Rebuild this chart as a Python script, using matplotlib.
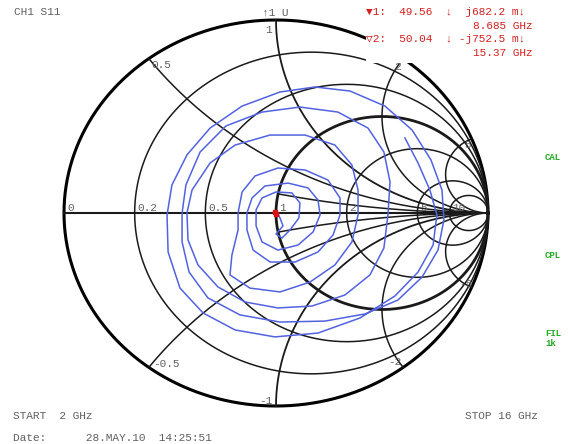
import numpy as np
import matplotlib.pyplot as plt
from matplotlib.patches import Rectangle

W, H = 568, 444
MONO = ['Liberation Mono', 'DejaVu Sans Mono']

# Smith chart grid values
r_circles = [0.2, 0.5, 1, 2, 5, 10]
r_labels = ['0', '0.2', '0.5', '1', '2', '5', '10']
x_arcs = [0.5, 1, 2, 5]
x_partial = [0.2]
x_labels = ['0.5', '1', '2', '5', '-0.5', '-1', '-2', '-5']

gamma_re = [0.608, 0.670, 0.726, 0.759, 0.741, 0.670, 0.561, 0.396, 0.198, -0.005,
            -0.193, -0.344, -0.453, -0.509, -0.514, -0.491, -0.420, -0.311, -0.160, 0.019,
            0.184, 0.349, 0.514, 0.642, 0.731, 0.783, 0.792, 0.764,
            0.689, 0.575, 0.420, 0.231, 0.019, -0.170, -0.321, -0.410, -0.443, -0.443,
            -0.425, -0.358, -0.236, -0.066, 0.113, 0.292, 0.434, 0.509, 0.538, 0.528, 0.509,
            0.443, 0.325, 0.170, 0.009, -0.146, -0.274, -0.368, -0.415, -0.420, -0.396,
            -0.311, -0.193, -0.028, 0.137, 0.278, 0.358, 0.387, 0.387, 0.358,
            0.278, 0.160, 0.019, -0.123, -0.217, -0.208, -0.179, -0.179, -0.160, -0.099,
            0.009, 0.137, 0.245, 0.302, 0.302, 0.269,
            0.198, 0.090, -0.028, -0.108, -0.137, -0.137, -0.113, -0.052, 0.057, 0.151,
            0.198, 0.208, 0.175,
            0.104, 0.009, -0.066, -0.094, -0.094, -0.066, 0.000, 0.075, 0.113, 0.108, 0.066,
            0.028, 0.000, 0.033, 0.019, 0.005]
gamma_im = [0.389, 0.259, 0.119, -0.010, -0.166, -0.306, -0.430, -0.544, -0.622, -0.642,
            -0.606, -0.518, -0.389, -0.202, -0.010, 0.145, 0.301, 0.440, 0.554, 0.627,
            0.653, 0.632, 0.554, 0.430, 0.275, 0.119, -0.036, -0.192,
            -0.332, -0.451, -0.523, -0.560, -0.565, -0.528, -0.440, -0.306, -0.150, 0.000,
            0.145, 0.316, 0.451, 0.523, 0.549, 0.523, 0.440, 0.316, 0.161, -0.010, -0.181,
            -0.321, -0.425, -0.482, -0.492, -0.461, -0.383, -0.269, -0.140, 0.000, 0.119,
            0.259, 0.352, 0.404, 0.404, 0.352, 0.249, 0.119, -0.010, -0.150,
            -0.269, -0.358, -0.409, -0.389, -0.321, -0.218, -0.088, 0.000, 0.109, 0.192,
            0.233, 0.223, 0.171, 0.078, -0.010, -0.114,
            -0.202, -0.254, -0.254, -0.192, -0.088, 0.000, 0.078, 0.140, 0.155, 0.130,
            0.067, -0.010, -0.098,
            -0.166, -0.192, -0.150, -0.067, 0.016, 0.078, 0.109, 0.104, 0.052, -0.026, -0.088,
            -0.130, -0.109, -0.067, -0.026, 0.005]

# markers
z0 = 50.0
marker_freq = ['8.685 GHz', '15.37 GHz']
marker_r = [49.56, 50.04]
marker_x = [0.6822, -0.7525]

# label offsets (pixels) for reactance labels
x_label_style = {'0.5': (3, -6, 'left'), '1': (-4, -10, 'right'), '2': (-2, -8, 'right'),
                 '5': (-1, -6, 'right'), '-0.5': (4, 3, 'left'), '-1': (-4, 5, 'right'),
                 '-2': (-2, 5, 'right'), '-5': (1, 3, 'right')}


def gamma(z):
    return (z - 1) / (z + 1)


def figtext(x, y, s, **kw):
    fig.text(x / W, 1 - y / H, s, va='center', family=MONO, **kw)


fig = plt.figure(figsize=(W / 100, H / 100), dpi=100)
ax = fig.add_axes([64 / W, 1 - 406 / H, 424 / W, 386 / H])
ax.set_xlim(-1, 1)
ax.set_ylim(-1, 1)
ax.axis('off')

grid = '#1a1a1a'
t = np.linspace(0, 2 * np.pi, 721)
ax.plot(np.cos(t), np.sin(t), color='#000000', lw=2.2, clip_on=False)
for r in r_circles:
    c, rad = r / (1 + r), 1 / (1 + r)
    ax.plot(c + rad * np.cos(t), rad * np.sin(t), color=grid,
            lw=2.0 if r == 1 else 1.1, clip_on=False)
ax.plot([-1, 1], [0, 0], color=grid, lw=1.5, clip_on=False)

rr = np.concatenate([[0], np.logspace(-3, 4, 600)])
for x in x_arcs:
    for s in (1, -1):
        g = gamma(rr + 1j * s * x)
        ax.plot(g.real, g.imag, color=grid, lw=1.3 if x == 1 else 1.1, clip_on=False)
rr2 = np.logspace(0, 4, 300)
for x in x_partial:
    for s in (1, -1):
        g = gamma(rr2 + 1j * s * x)
        ax.plot(g.real, g.imag, color=grid, lw=1.1, clip_on=False)

lab = dict(fontsize=8, color='#606060', family=MONO, va='center')
for r, s in zip([0] + r_circles, r_labels):
    ax.annotate(s, xy=((r - 1) / (r + 1), 0), xytext=(3, 5), textcoords='offset pixels',
                ha='left', **lab)
for x, s in zip(x_arcs + [-v for v in x_arcs], x_labels):
    dx, dy, ha = x_label_style[s]
    pt = ((x * x - 1) / (x * x + 1), 2 * x / (x * x + 1))
    ax.annotate(s, xy=pt, xytext=(dx, dy), textcoords='offset pixels', ha=ha, **lab)

ax.plot(gamma_re, gamma_im, color='#5262e0', lw=1.1)

for r, x in zip(marker_r, marker_x):
    g = gamma((r + 1j * x) / z0)
    ax.plot(g.real, g.imag, marker='s', ms=3.5, color='#dd1111', zorder=5)

# white box behind marker readout
fig.add_artist(Rectangle((366 / W, 1 - 63 / H), 160 / W, 63 / H, transform=fig.transFigure,
                         facecolor='white', edgecolor='none', zorder=2))

gray = '#606060'
red = '#d42020'
green = '#22aa22'
figtext(14, 12, 'CH1 S11', fontsize=8, color=gray)
figtext(262, 12, '↑1 U', fontsize=8, color=gray)
figtext(366, 12, '▼1:  %.2f  ↓  j%.1f m↓' % (marker_r[0], marker_x[0] * 1000),
        fontsize=8, color=red)
figtext(473, 26, marker_freq[0], fontsize=8, color=red)
figtext(366, 39, '▽2:  %.2f  ↓ -j%.1f m↓' % (marker_r[1], -marker_x[1] * 1000),
        fontsize=8, color=red)
figtext(473, 53, marker_freq[1], fontsize=8, color=red)

figtext(545, 157, 'CAL', fontsize=6.5, color=green, weight='bold')
figtext(545, 255, 'CPL', fontsize=6.5, color=green, weight='bold')
figtext(545, 333, 'FIL', fontsize=6.5, color=green, weight='bold')
figtext(545, 343, '1k', fontsize=6.5, color=green, weight='bold')

figtext(13, 416, 'START  2 GHz', fontsize=8, color=gray)
figtext(465, 416, 'STOP 16 GHz', fontsize=8, color=gray)
figtext(13, 438, 'Date:      28.MAY.10  14:25:51', fontsize=8, color=gray)

fig.savefig('out.png', dpi=100)
